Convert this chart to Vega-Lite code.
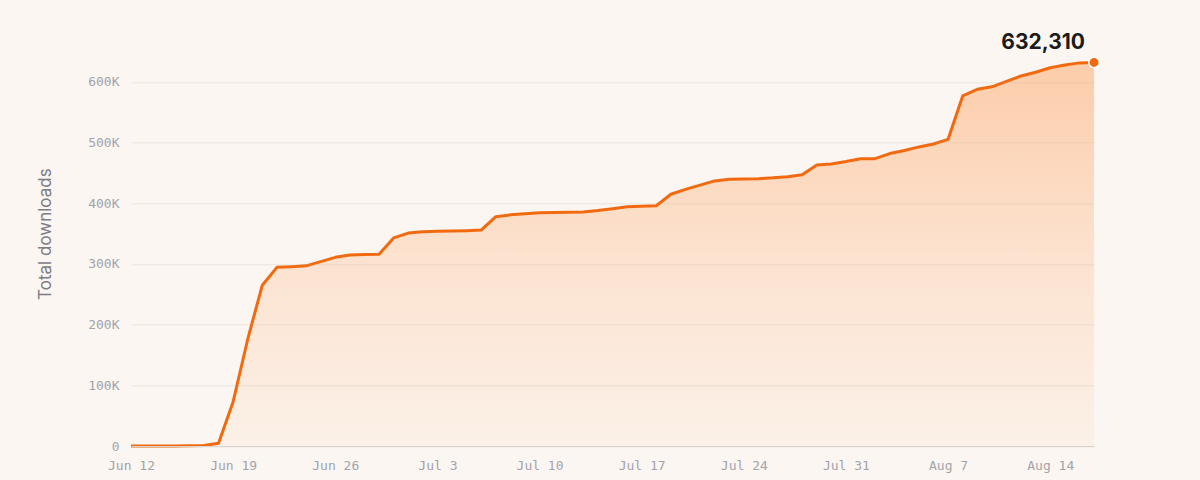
{
  "$schema": "https://vega.github.io/schema/vega-lite/v6.json",
  "width": 963,
  "height": 424.67,
  "autosize": "none",
  "padding": {"left": 131, "top": 21.33, "right": 106, "bottom": 34},
  "background": "#fbf6f1",
  "config": {"view": {"stroke": null}},
  "data": {
    "values": [
      {"day": "2023-06-12T00:00:00", "downloads": 0},
      {"day": "2023-06-13T00:00:00", "downloads": 0},
      {"day": "2023-06-14T00:00:00", "downloads": 0},
      {"day": "2023-06-15T00:00:00", "downloads": 100},
      {"day": "2023-06-16T00:00:00", "downloads": 300},
      {"day": "2023-06-17T00:00:00", "downloads": 800},
      {"day": "2023-06-18T00:00:00", "downloads": 4500},
      {"day": "2023-06-19T00:00:00", "downloads": 73000},
      {"day": "2023-06-20T00:00:00", "downloads": 176000},
      {"day": "2023-06-21T00:00:00", "downloads": 265000},
      {"day": "2023-06-22T00:00:00", "downloads": 294500},
      {"day": "2023-06-23T00:00:00", "downloads": 295500},
      {"day": "2023-06-24T00:00:00", "downloads": 297000},
      {"day": "2023-06-25T00:00:00", "downloads": 304000},
      {"day": "2023-06-26T00:00:00", "downloads": 311000},
      {"day": "2023-06-27T00:00:00", "downloads": 315000},
      {"day": "2023-06-28T00:00:00", "downloads": 315500},
      {"day": "2023-06-29T00:00:00", "downloads": 316000},
      {"day": "2023-06-30T00:00:00", "downloads": 343000},
      {"day": "2023-07-01T00:00:00", "downloads": 351000},
      {"day": "2023-07-02T00:00:00", "downloads": 353000},
      {"day": "2023-07-03T00:00:00", "downloads": 354000},
      {"day": "2023-07-04T00:00:00", "downloads": 354500},
      {"day": "2023-07-05T00:00:00", "downloads": 355000},
      {"day": "2023-07-06T00:00:00", "downloads": 356000},
      {"day": "2023-07-07T00:00:00", "downloads": 378000},
      {"day": "2023-07-08T00:00:00", "downloads": 381000},
      {"day": "2023-07-09T00:00:00", "downloads": 383000},
      {"day": "2023-07-10T00:00:00", "downloads": 384500},
      {"day": "2023-07-11T00:00:00", "downloads": 385000},
      {"day": "2023-07-12T00:00:00", "downloads": 385300},
      {"day": "2023-07-13T00:00:00", "downloads": 385700},
      {"day": "2023-07-14T00:00:00", "downloads": 388000},
      {"day": "2023-07-15T00:00:00", "downloads": 391000},
      {"day": "2023-07-16T00:00:00", "downloads": 394500},
      {"day": "2023-07-17T00:00:00", "downloads": 395200},
      {"day": "2023-07-18T00:00:00", "downloads": 396000},
      {"day": "2023-07-19T00:00:00", "downloads": 415000},
      {"day": "2023-07-20T00:00:00", "downloads": 423000},
      {"day": "2023-07-21T00:00:00", "downloads": 430000},
      {"day": "2023-07-22T00:00:00", "downloads": 437000},
      {"day": "2023-07-23T00:00:00", "downloads": 439600},
      {"day": "2023-07-24T00:00:00", "downloads": 440200},
      {"day": "2023-07-25T00:00:00", "downloads": 440600},
      {"day": "2023-07-26T00:00:00", "downloads": 442000},
      {"day": "2023-07-27T00:00:00", "downloads": 444000},
      {"day": "2023-07-28T00:00:00", "downloads": 447000},
      {"day": "2023-07-29T00:00:00", "downloads": 463000},
      {"day": "2023-07-30T00:00:00", "downloads": 465000},
      {"day": "2023-07-31T00:00:00", "downloads": 469000},
      {"day": "2023-08-01T00:00:00", "downloads": 473600},
      {"day": "2023-08-02T00:00:00", "downloads": 473600},
      {"day": "2023-08-03T00:00:00", "downloads": 482000},
      {"day": "2023-08-04T00:00:00", "downloads": 487000},
      {"day": "2023-08-05T00:00:00", "downloads": 493000},
      {"day": "2023-08-06T00:00:00", "downloads": 497800},
      {"day": "2023-08-07T00:00:00", "downloads": 505500},
      {"day": "2023-08-08T00:00:00", "downloads": 577000},
      {"day": "2023-08-09T00:00:00", "downloads": 588000},
      {"day": "2023-08-10T00:00:00", "downloads": 592000},
      {"day": "2023-08-11T00:00:00", "downloads": 601000},
      {"day": "2023-08-12T00:00:00", "downloads": 610000},
      {"day": "2023-08-13T00:00:00", "downloads": 616000},
      {"day": "2023-08-14T00:00:00", "downloads": 623500},
      {"day": "2023-08-15T00:00:00", "downloads": 628000},
      {"day": "2023-08-16T00:00:00", "downloads": 631500},
      {"day": "2023-08-17T00:00:00", "downloads": 632310}
    ]
  },
  "encoding": {
    "x": {
      "field": "day",
      "type": "temporal",
      "title": null,
      "scale": {
        "domain": [
          {"year": 2023, "month": 6, "date": 12},
          {"year": 2023, "month": 8, "date": 17}
        ]
      },
      "axis": {
        "values": [
          {"year": 2023, "month": 6, "date": 12},
          {"year": 2023, "month": 6, "date": 19},
          {"year": 2023, "month": 6, "date": 26},
          {"year": 2023, "month": 7, "date": 3},
          {"year": 2023, "month": 7, "date": 10},
          {"year": 2023, "month": 7, "date": 17},
          {"year": 2023, "month": 7, "date": 24},
          {"year": 2023, "month": 7, "date": 31},
          {"year": 2023, "month": 8, "date": 7},
          {"year": 2023, "month": 8, "date": 14}
        ],
        "format": "%b %-d",
        "grid": false,
        "ticks": false,
        "zindex": 1,
        "domainColor": "#d8d2cc",
        "domainWidth": 1.2,
        "labelFont": "DejaVu Sans Mono",
        "labelFontSize": 13,
        "labelColor": "#a3a3ab",
        "labelPadding": 13,
        "labelFlush": false
      }
    },
    "y": {
      "field": "downloads",
      "type": "quantitative",
      "title": "Total downloads",
      "scale": {"domain": [0, 700000], "nice": false},
      "axis": {
        "values": [0, 100000, 200000, 300000, 400000, 500000, 600000],
        "labelExpr": "datum.value == 0 ? '0' : (datum.value / 1000) + 'K'",
        "domain": false,
        "ticks": false,
        "zindex": 1,
        "gridColor": "#b8a898",
        "gridOpacity": 0.22,
        "gridWidth": 1,
        "labelFont": "DejaVu Sans Mono",
        "labelFontSize": 13,
        "labelColor": "#a3a3ab",
        "labelPadding": 12,
        "titleFont": "Inter",
        "titleFontSize": 17,
        "titleFontWeight": "normal",
        "titleColor": "#7d7d86",
        "titlePadding": 33
      }
    }
  },
  "layer": [
    {
      "mark": {
        "type": "area",
        "color": {
          "gradient": "linear",
          "x1": 0, "y1": 1, "x2": 0, "y2": 0,
          "stops": [
            {"offset": 0, "color": "#fbf1e8"},
            {"offset": 0.5, "color": "#fce2cf"},
            {"offset": 1, "color": "#fccdaa"}
          ]
        }
      }
    },
    {
      "mark": {"type": "line", "color": "#f26a10", "strokeWidth": 3, "strokeJoin": "round"}
    },
    {
      "transform": [{"filter": "datum.downloads == 632310"}],
      "mark": {"type": "point", "filled": true, "size": 110, "color": "#f26a10", "stroke": "#ffffff", "strokeWidth": 1.5, "opacity": 1}
    },
    {
      "transform": [{"filter": "datum.downloads == 632310"}],
      "mark": {"type": "text", "align": "right", "baseline": "bottom", "dx": -9, "dy": -9, "font": "Inter", "fontSize": 21, "fontWeight": "bold", "color": "#1b1b1b"},
      "encoding": {"text": {"field": "downloads", "type": "quantitative", "format": ","}}
    }
  ]
}
